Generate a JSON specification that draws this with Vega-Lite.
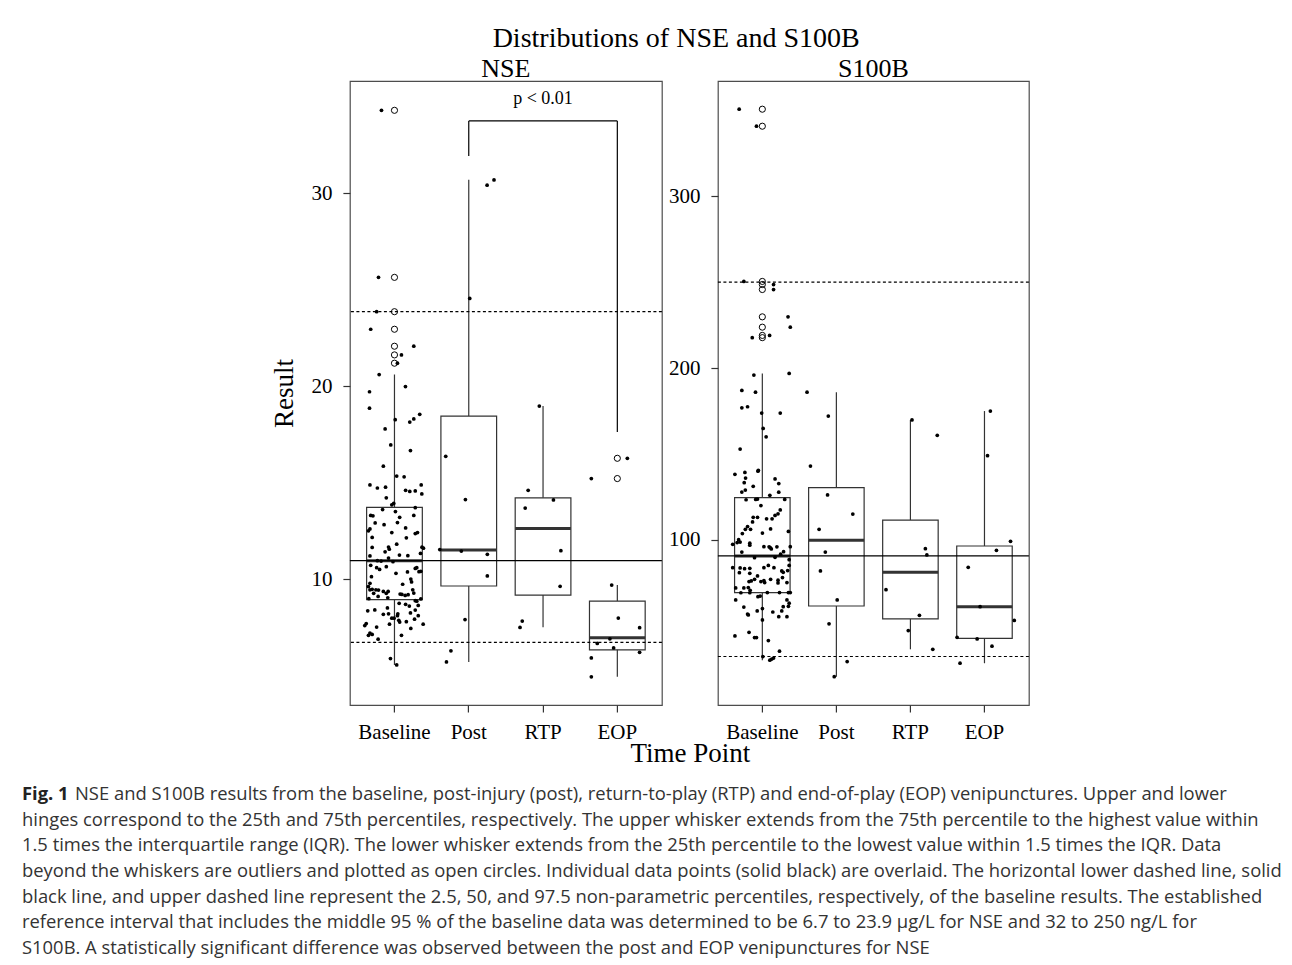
{
  "$schema": "https://vega.github.io/schema/vega-lite/v6.json",
  "padding": {"left": 22, "top": 25, "right": 0, "bottom": 0},
  "background": "white",
  "config": {
    "font": "Liberation Serif",
    "view": {"stroke": "#4d4d4d", "strokeWidth": 1.2},
    "axis": {"grid": false, "domain": false, "ticks": true, "tickSize": 7, "tickColor": "#333333", "tickWidth": 1.2, "labelFont": "Liberation Serif", "labelFontSize": 21, "labelColor": "#000000", "labelPadding": 11, "titleFont": "Liberation Serif", "titleFontSize": 27, "titleFontWeight": "normal", "titleColor": "#000000"},
    "title": {"font": "Liberation Serif", "fontWeight": "normal", "color": "#000000"}
  },
  "datasets": {
    "points": [
      {"p":"NSE","t":"Baseline","j":-0.175,"v":34.3,"o":1},
      {"p":"NSE","t":"Baseline","j":-0.215,"v":25.64,"o":1},
      {"p":"NSE","t":"Baseline","j":-0.24,"v":23.86,"o":1},
      {"p":"NSE","t":"Baseline","j":-0.32,"v":22.95,"o":1},
      {"p":"NSE","t":"Baseline","j":0.26,"v":22.07,"o":1},
      {"p":"NSE","t":"Baseline","j":0.094,"v":21.62,"o":1},
      {"p":"NSE","t":"Baseline","j":0.04,"v":21.19,"o":1},
      {"p":"NSE","t":"Baseline","j":-0.206,"v":20.6},
      {"p":"NSE","t":"Baseline","j":0.148,"v":19.98},
      {"p":"NSE","t":"Baseline","j":-0.336,"v":19.71},
      {"p":"NSE","t":"Baseline","j":-0.336,"v":18.86},
      {"p":"NSE","t":"Baseline","j":0.01,"v":18.26},
      {"p":"NSE","t":"Baseline","j":0.206,"v":18.14},
      {"p":"NSE","t":"Baseline","j":0.26,"v":18.3},
      {"p":"NSE","t":"Baseline","j":0.34,"v":18.54},
      {"p":"NSE","t":"Baseline","j":-0.126,"v":17.78},
      {"p":"NSE","t":"Baseline","j":-0.05,"v":16.95},
      {"p":"NSE","t":"Baseline","j":0.215,"v":16.66},
      {"p":"NSE","t":"Baseline","j":-0.15,"v":15.85},
      {"p":"NSE","t":"Baseline","j":0.03,"v":15.34},
      {"p":"NSE","t":"Baseline","j":0.13,"v":15.3},
      {"p":"NSE","t":"Baseline","j":-0.33,"v":14.88},
      {"p":"NSE","t":"Baseline","j":-0.23,"v":14.72},
      {"p":"NSE","t":"Baseline","j":-0.12,"v":14.76},
      {"p":"NSE","t":"Baseline","j":0.36,"v":14.88},
      {"p":"NSE","t":"Baseline","j":0.15,"v":14.6},
      {"p":"NSE","t":"Baseline","j":0.206,"v":14.54},
      {"p":"NSE","t":"Baseline","j":0.28,"v":14.57},
      {"p":"NSE","t":"Baseline","j":0.368,"v":14.41},
      {"p":"NSE","t":"Baseline","j":-0.11,"v":14.21},
      {"p":"NSE","t":"Baseline","j":-0.01,"v":13.92},
      {"p":"NSE","t":"Baseline","j":-0.036,"v":13.85},
      {"p":"NSE","t":"Baseline","j":-0.16,"v":13.6},
      {"p":"NSE","t":"Baseline","j":0.013,"v":13.5},
      {"p":"NSE","t":"Baseline","j":0.28,"v":13.7},
      {"p":"NSE","t":"Baseline","j":-0.32,"v":13.3},
      {"p":"NSE","t":"Baseline","j":-0.29,"v":13.28},
      {"p":"NSE","t":"Baseline","j":0.07,"v":13.2},
      {"p":"NSE","t":"Baseline","j":0.26,"v":13.3},
      {"p":"NSE","t":"Baseline","j":-0.26,"v":12.91},
      {"p":"NSE","t":"Baseline","j":-0.14,"v":12.82},
      {"p":"NSE","t":"Baseline","j":0.04,"v":12.93},
      {"p":"NSE","t":"Baseline","j":-0.33,"v":12.6},
      {"p":"NSE","t":"Baseline","j":-0.35,"v":12.5},
      {"p":"NSE","t":"Baseline","j":0.15,"v":12.65},
      {"p":"NSE","t":"Baseline","j":-0.036,"v":12.41},
      {"p":"NSE","t":"Baseline","j":0.28,"v":12.36},
      {"p":"NSE","t":"Baseline","j":0.31,"v":12.41},
      {"p":"NSE","t":"Baseline","j":-0.3,"v":12.16},
      {"p":"NSE","t":"Baseline","j":0.16,"v":12.14},
      {"p":"NSE","t":"Baseline","j":0.03,"v":11.81},
      {"p":"NSE","t":"Baseline","j":-0.3,"v":11.64},
      {"p":"NSE","t":"Baseline","j":-0.08,"v":11.66},
      {"p":"NSE","t":"Baseline","j":0.37,"v":11.65},
      {"p":"NSE","t":"Baseline","j":0.39,"v":11.6},
      {"p":"NSE","t":"Baseline","j":-0.126,"v":11.41},
      {"p":"NSE","t":"Baseline","j":-0.07,"v":11.55},
      {"p":"NSE","t":"Baseline","j":0.067,"v":11.24},
      {"p":"NSE","t":"Baseline","j":0.18,"v":11.21},
      {"p":"NSE","t":"Baseline","j":0.35,"v":11.33},
      {"p":"NSE","t":"Baseline","j":-0.33,"v":11.2},
      {"p":"NSE","t":"Baseline","j":-0.08,"v":11.09},
      {"p":"NSE","t":"Baseline","j":-0.23,"v":10.95},
      {"p":"NSE","t":"Baseline","j":-0.18,"v":10.93},
      {"p":"NSE","t":"Baseline","j":-0.02,"v":10.9},
      {"p":"NSE","t":"Baseline","j":-0.32,"v":10.71},
      {"p":"NSE","t":"Baseline","j":-0.24,"v":10.59},
      {"p":"NSE","t":"Baseline","j":-0.2,"v":10.5},
      {"p":"NSE","t":"Baseline","j":-0.11,"v":10.64},
      {"p":"NSE","t":"Baseline","j":0.28,"v":10.55},
      {"p":"NSE","t":"Baseline","j":0.3,"v":10.59},
      {"p":"NSE","t":"Baseline","j":0.33,"v":10.38},
      {"p":"NSE","t":"Baseline","j":0.355,"v":10.4},
      {"p":"NSE","t":"Baseline","j":0.02,"v":10.3},
      {"p":"NSE","t":"Baseline","j":0.175,"v":10.37},
      {"p":"NSE","t":"Baseline","j":-0.31,"v":10.12},
      {"p":"NSE","t":"Baseline","j":-0.33,"v":9.78},
      {"p":"NSE","t":"Baseline","j":0.11,"v":9.73},
      {"p":"NSE","t":"Baseline","j":0.22,"v":10.0},
      {"p":"NSE","t":"Baseline","j":0.23,"v":9.85},
      {"p":"NSE","t":"Baseline","j":-0.35,"v":9.61},
      {"p":"NSE","t":"Baseline","j":-0.33,"v":9.44},
      {"p":"NSE","t":"Baseline","j":-0.3,"v":9.47},
      {"p":"NSE","t":"Baseline","j":-0.25,"v":9.44},
      {"p":"NSE","t":"Baseline","j":-0.215,"v":9.43},
      {"p":"NSE","t":"Baseline","j":-0.15,"v":9.36},
      {"p":"NSE","t":"Baseline","j":-0.28,"v":9.26},
      {"p":"NSE","t":"Baseline","j":-0.085,"v":9.36},
      {"p":"NSE","t":"Baseline","j":-0.11,"v":9.26},
      {"p":"NSE","t":"Baseline","j":-0.22,"v":9.1},
      {"p":"NSE","t":"Baseline","j":0.076,"v":9.22},
      {"p":"NSE","t":"Baseline","j":0.1,"v":9.2},
      {"p":"NSE","t":"Baseline","j":0.144,"v":9.15},
      {"p":"NSE","t":"Baseline","j":0.184,"v":9.19},
      {"p":"NSE","t":"Baseline","j":0.246,"v":9.44},
      {"p":"NSE","t":"Baseline","j":0.26,"v":9.27},
      {"p":"NSE","t":"Baseline","j":-0.345,"v":8.98},
      {"p":"NSE","t":"Baseline","j":-0.09,"v":9.03},
      {"p":"NSE","t":"Baseline","j":0.355,"v":8.97},
      {"p":"NSE","t":"Baseline","j":0.28,"v":8.88},
      {"p":"NSE","t":"Baseline","j":0.3,"v":8.85},
      {"p":"NSE","t":"Baseline","j":0.063,"v":8.74},
      {"p":"NSE","t":"Baseline","j":0.15,"v":8.69},
      {"p":"NSE","t":"Baseline","j":-0.36,"v":8.35},
      {"p":"NSE","t":"Baseline","j":-0.265,"v":8.4},
      {"p":"NSE","t":"Baseline","j":-0.095,"v":8.5},
      {"p":"NSE","t":"Baseline","j":0.2,"v":8.6},
      {"p":"NSE","t":"Baseline","j":0.32,"v":8.63},
      {"p":"NSE","t":"Baseline","j":0.28,"v":8.39},
      {"p":"NSE","t":"Baseline","j":-0.15,"v":8.17},
      {"p":"NSE","t":"Baseline","j":-0.08,"v":8.2},
      {"p":"NSE","t":"Baseline","j":-0.036,"v":7.97},
      {"p":"NSE","t":"Baseline","j":-0.005,"v":7.97},
      {"p":"NSE","t":"Baseline","j":0.045,"v":8.2},
      {"p":"NSE","t":"Baseline","j":0.04,"v":8.1},
      {"p":"NSE","t":"Baseline","j":0.215,"v":8.24},
      {"p":"NSE","t":"Baseline","j":0.27,"v":7.92},
      {"p":"NSE","t":"Baseline","j":0.32,"v":8.1},
      {"p":"NSE","t":"Baseline","j":-0.38,"v":7.69},
      {"p":"NSE","t":"Baseline","j":-0.4,"v":7.59},
      {"p":"NSE","t":"Baseline","j":-0.067,"v":7.66},
      {"p":"NSE","t":"Baseline","j":0.058,"v":7.86},
      {"p":"NSE","t":"Baseline","j":0.07,"v":7.77},
      {"p":"NSE","t":"Baseline","j":0.16,"v":7.79},
      {"p":"NSE","t":"Baseline","j":-0.24,"v":7.51},
      {"p":"NSE","t":"Baseline","j":0.22,"v":7.44},
      {"p":"NSE","t":"Baseline","j":0.386,"v":7.66},
      {"p":"NSE","t":"Baseline","j":-0.33,"v":7.2},
      {"p":"NSE","t":"Baseline","j":-0.3,"v":7.13},
      {"p":"NSE","t":"Baseline","j":-0.35,"v":7.08},
      {"p":"NSE","t":"Baseline","j":-0.22,"v":6.88},
      {"p":"NSE","t":"Baseline","j":0.094,"v":7.08},
      {"p":"NSE","t":"Baseline","j":-0.054,"v":5.88},
      {"p":"NSE","t":"Baseline","j":0.03,"v":5.55},
      {"p":"NSE","t":"Post","j":0.247,"v":30.42},
      {"p":"NSE","t":"Post","j":0.34,"v":30.69},
      {"p":"NSE","t":"Post","j":0.013,"v":24.55},
      {"p":"NSE","t":"Post","j":-0.31,"v":16.36},
      {"p":"NSE","t":"Post","j":-0.045,"v":14.12},
      {"p":"NSE","t":"Post","j":-0.39,"v":11.53},
      {"p":"NSE","t":"Post","j":-0.1,"v":11.45},
      {"p":"NSE","t":"Post","j":0.25,"v":11.28},
      {"p":"NSE","t":"Post","j":0.25,"v":10.16},
      {"p":"NSE","t":"Post","j":-0.05,"v":7.9},
      {"p":"NSE","t":"Post","j":-0.24,"v":6.28},
      {"p":"NSE","t":"Post","j":-0.3,"v":5.7},
      {"p":"NSE","t":"RTP","j":-0.05,"v":18.97},
      {"p":"NSE","t":"RTP","j":-0.2,"v":14.6},
      {"p":"NSE","t":"RTP","j":0.14,"v":14.1},
      {"p":"NSE","t":"RTP","j":-0.24,"v":13.68},
      {"p":"NSE","t":"RTP","j":0.24,"v":11.47},
      {"p":"NSE","t":"RTP","j":0.23,"v":9.62},
      {"p":"NSE","t":"RTP","j":-0.28,"v":7.82},
      {"p":"NSE","t":"RTP","j":-0.31,"v":7.49},
      {"p":"NSE","t":"EOP","j":-0.076,"v":9.69},
      {"p":"NSE","t":"EOP","j":0.013,"v":7.98},
      {"p":"NSE","t":"EOP","j":0.3,"v":7.48},
      {"p":"NSE","t":"EOP","j":-0.1,"v":6.9},
      {"p":"NSE","t":"EOP","j":-0.27,"v":6.66},
      {"p":"NSE","t":"EOP","j":-0.05,"v":6.43},
      {"p":"NSE","t":"EOP","j":0.3,"v":6.2},
      {"p":"NSE","t":"EOP","j":-0.35,"v":5.91},
      {"p":"NSE","t":"EOP","j":-0.35,"v":4.93},
      {"p":"NSE","t":"EOP","j":-0.35,"v":15.21,"o":1},
      {"p":"NSE","t":"EOP","j":0.135,"v":16.26,"o":1},
      {"p":"S100B","t":"Baseline","j":-0.313,"v":350.6,"o":1},
      {"p":"S100B","t":"Baseline","j":-0.08,"v":340.7,"o":1},
      {"p":"S100B","t":"Baseline","j":-0.25,"v":250.4,"o":1},
      {"p":"S100B","t":"Baseline","j":0.15,"v":248.6,"o":1},
      {"p":"S100B","t":"Baseline","j":0.15,"v":245.7,"o":1},
      {"p":"S100B","t":"Baseline","j":0.345,"v":229.8,"o":1},
      {"p":"S100B","t":"Baseline","j":0.375,"v":223.8,"o":1},
      {"p":"S100B","t":"Baseline","j":0.097,"v":219,"o":1},
      {"p":"S100B","t":"Baseline","j":-0.137,"v":217.7,"o":1},
      {"p":"S100B","t":"Baseline","j":0.36,"v":196.9},
      {"p":"S100B","t":"Baseline","j":-0.115,"v":195.9},
      {"p":"S100B","t":"Baseline","j":-0.277,"v":187},
      {"p":"S100B","t":"Baseline","j":-0.093,"v":186},
      {"p":"S100B","t":"Baseline","j":-0.277,"v":176.9},
      {"p":"S100B","t":"Baseline","j":-0.2,"v":177.5},
      {"p":"S100B","t":"Baseline","j":-0.01,"v":173.8},
      {"p":"S100B","t":"Baseline","j":0.24,"v":173.8},
      {"p":"S100B","t":"Baseline","j":0.01,"v":164.9},
      {"p":"S100B","t":"Baseline","j":0.05,"v":160},
      {"p":"S100B","t":"Baseline","j":-0.3,"v":152.9},
      {"p":"S100B","t":"Baseline","j":-0.37,"v":138.2},
      {"p":"S100B","t":"Baseline","j":-0.236,"v":139.3},
      {"p":"S100B","t":"Baseline","j":-0.227,"v":136},
      {"p":"S100B","t":"Baseline","j":-0.245,"v":133.3},
      {"p":"S100B","t":"Baseline","j":-0.124,"v":131.2},
      {"p":"S100B","t":"Baseline","j":-0.277,"v":127.9},
      {"p":"S100B","t":"Baseline","j":-0.23,"v":129},
      {"p":"S100B","t":"Baseline","j":-0.06,"v":140},
      {"p":"S100B","t":"Baseline","j":-0.055,"v":140.5},
      {"p":"S100B","t":"Baseline","j":0.17,"v":135.5},
      {"p":"S100B","t":"Baseline","j":0.22,"v":132.8},
      {"p":"S100B","t":"Baseline","j":0.22,"v":127.8},
      {"p":"S100B","t":"Baseline","j":0.1,"v":126},
      {"p":"S100B","t":"Baseline","j":-0.22,"v":123.4},
      {"p":"S100B","t":"Baseline","j":-0.09,"v":123.6},
      {"p":"S100B","t":"Baseline","j":-0.066,"v":123.8},
      {"p":"S100B","t":"Baseline","j":0.3,"v":123.6},
      {"p":"S100B","t":"Baseline","j":-0.02,"v":120},
      {"p":"S100B","t":"Baseline","j":0.21,"v":115.2},
      {"p":"S100B","t":"Baseline","j":0.24,"v":117.5},
      {"p":"S100B","t":"Baseline","j":0.17,"v":114.3},
      {"p":"S100B","t":"Baseline","j":0.13,"v":112.3},
      {"p":"S100B","t":"Baseline","j":0.056,"v":112.3},
      {"p":"S100B","t":"Baseline","j":-0.066,"v":113.2},
      {"p":"S100B","t":"Baseline","j":-0.124,"v":113.2},
      {"p":"S100B","t":"Baseline","j":-0.133,"v":110.5},
      {"p":"S100B","t":"Baseline","j":-0.2,"v":107.8},
      {"p":"S100B","t":"Baseline","j":-0.23,"v":106.2},
      {"p":"S100B","t":"Baseline","j":-0.27,"v":103.7},
      {"p":"S100B","t":"Baseline","j":-0.32,"v":100.2},
      {"p":"S100B","t":"Baseline","j":-0.34,"v":98.5},
      {"p":"S100B","t":"Baseline","j":-0.16,"v":106.2},
      {"p":"S100B","t":"Baseline","j":0.0,"v":104},
      {"p":"S100B","t":"Baseline","j":0.11,"v":106.4},
      {"p":"S100B","t":"Baseline","j":0.35,"v":105},
      {"p":"S100B","t":"Baseline","j":-0.4,"v":97.5},
      {"p":"S100B","t":"Baseline","j":-0.3,"v":98.8},
      {"p":"S100B","t":"Baseline","j":-0.17,"v":98.1},
      {"p":"S100B","t":"Baseline","j":-0.17,"v":97},
      {"p":"S100B","t":"Baseline","j":0.02,"v":96.1},
      {"p":"S100B","t":"Baseline","j":0.09,"v":96},
      {"p":"S100B","t":"Baseline","j":0.12,"v":94.8},
      {"p":"S100B","t":"Baseline","j":0.105,"v":95.5},
      {"p":"S100B","t":"Baseline","j":0.195,"v":96},
      {"p":"S100B","t":"Baseline","j":0.285,"v":93.2},
      {"p":"S100B","t":"Baseline","j":0.245,"v":91.7},
      {"p":"S100B","t":"Baseline","j":0.375,"v":96.1},
      {"p":"S100B","t":"Baseline","j":-0.277,"v":93},
      {"p":"S100B","t":"Baseline","j":-0.106,"v":89.7},
      {"p":"S100B","t":"Baseline","j":0.17,"v":89.9},
      {"p":"S100B","t":"Baseline","j":0.36,"v":88.5},
      {"p":"S100B","t":"Baseline","j":-0.4,"v":83.9},
      {"p":"S100B","t":"Baseline","j":-0.31,"v":81},
      {"p":"S100B","t":"Baseline","j":-0.3,"v":83.7},
      {"p":"S100B","t":"Baseline","j":-0.24,"v":83.3},
      {"p":"S100B","t":"Baseline","j":-0.17,"v":83.5},
      {"p":"S100B","t":"Baseline","j":-0.17,"v":80.6},
      {"p":"S100B","t":"Baseline","j":0.02,"v":83.9},
      {"p":"S100B","t":"Baseline","j":0.08,"v":85.2},
      {"p":"S100B","t":"Baseline","j":0.155,"v":83.9},
      {"p":"S100B","t":"Baseline","j":0.26,"v":82},
      {"p":"S100B","t":"Baseline","j":0.28,"v":81.2},
      {"p":"S100B","t":"Baseline","j":0.34,"v":82.2},
      {"p":"S100B","t":"Baseline","j":0.36,"v":85.2},
      {"p":"S100B","t":"Baseline","j":-0.066,"v":79.1},
      {"p":"S100B","t":"Baseline","j":-0.106,"v":77.1},
      {"p":"S100B","t":"Baseline","j":-0.18,"v":75.8},
      {"p":"S100B","t":"Baseline","j":-0.15,"v":76.2},
      {"p":"S100B","t":"Baseline","j":-0.02,"v":75.8},
      {"p":"S100B","t":"Baseline","j":0.02,"v":76.4},
      {"p":"S100B","t":"Baseline","j":0.11,"v":77.1},
      {"p":"S100B","t":"Baseline","j":0.03,"v":75.2},
      {"p":"S100B","t":"Baseline","j":0.21,"v":76.6},
      {"p":"S100B","t":"Baseline","j":0.21,"v":75},
      {"p":"S100B","t":"Baseline","j":0.33,"v":75.2},
      {"p":"S100B","t":"Baseline","j":0.27,"v":78.1},
      {"p":"S100B","t":"Baseline","j":-0.36,"v":72.1},
      {"p":"S100B","t":"Baseline","j":-0.25,"v":72.1},
      {"p":"S100B","t":"Baseline","j":-0.19,"v":72.3},
      {"p":"S100B","t":"Baseline","j":-0.165,"v":70.7},
      {"p":"S100B","t":"Baseline","j":-0.17,"v":69.3},
      {"p":"S100B","t":"Baseline","j":-0.29,"v":69.3},
      {"p":"S100B","t":"Baseline","j":0.066,"v":69.4},
      {"p":"S100B","t":"Baseline","j":0.23,"v":69.4},
      {"p":"S100B","t":"Baseline","j":0.35,"v":69.4},
      {"p":"S100B","t":"Baseline","j":0.375,"v":69.4},
      {"p":"S100B","t":"Baseline","j":-0.06,"v":67},
      {"p":"S100B","t":"Baseline","j":-0.03,"v":67.4},
      {"p":"S100B","t":"Baseline","j":-0.36,"v":65.1},
      {"p":"S100B","t":"Baseline","j":-0.25,"v":61},
      {"p":"S100B","t":"Baseline","j":-0.2,"v":56.9},
      {"p":"S100B","t":"Baseline","j":-0.19,"v":56.4},
      {"p":"S100B","t":"Baseline","j":-0.07,"v":58.7},
      {"p":"S100B","t":"Baseline","j":0.0,"v":60.1},
      {"p":"S100B","t":"Baseline","j":0.26,"v":58.7},
      {"p":"S100B","t":"Baseline","j":0.14,"v":58.1},
      {"p":"S100B","t":"Baseline","j":0.33,"v":65.1},
      {"p":"S100B","t":"Baseline","j":0.35,"v":61.4},
      {"p":"S100B","t":"Baseline","j":0.36,"v":63.2},
      {"p":"S100B","t":"Baseline","j":0.28,"v":61.2},
      {"p":"S100B","t":"Baseline","j":0.22,"v":55.4},
      {"p":"S100B","t":"Baseline","j":0.33,"v":55.4},
      {"p":"S100B","t":"Baseline","j":0.0,"v":53.5},
      {"p":"S100B","t":"Baseline","j":-0.37,"v":44.2},
      {"p":"S100B","t":"Baseline","j":-0.18,"v":46.3},
      {"p":"S100B","t":"Baseline","j":-0.106,"v":43.2},
      {"p":"S100B","t":"Baseline","j":-0.08,"v":43.2},
      {"p":"S100B","t":"Baseline","j":0.08,"v":41.5},
      {"p":"S100B","t":"Baseline","j":0.23,"v":35.3},
      {"p":"S100B","t":"Baseline","j":0.006,"v":32.2},
      {"p":"S100B","t":"Baseline","j":0.1,"v":30.1},
      {"p":"S100B","t":"Baseline","j":0.15,"v":31.3},
      {"p":"S100B","t":"Baseline","j":0.125,"v":30.7},
      {"p":"S100B","t":"Post","j":-0.396,"v":186},
      {"p":"S100B","t":"Post","j":-0.11,"v":172.1},
      {"p":"S100B","t":"Post","j":-0.35,"v":143},
      {"p":"S100B","t":"Post","j":-0.12,"v":126.2},
      {"p":"S100B","t":"Post","j":0.22,"v":115.1},
      {"p":"S100B","t":"Post","j":-0.234,"v":106.2},
      {"p":"S100B","t":"Post","j":-0.15,"v":93},
      {"p":"S100B","t":"Post","j":-0.216,"v":82},
      {"p":"S100B","t":"Post","j":0.01,"v":65.1},
      {"p":"S100B","t":"Post","j":-0.1,"v":51.2},
      {"p":"S100B","t":"Post","j":0.144,"v":29.3},
      {"p":"S100B","t":"Post","j":-0.03,"v":20.5},
      {"p":"S100B","t":"RTP","j":0.02,"v":169.8},
      {"p":"S100B","t":"RTP","j":0.36,"v":160.9},
      {"p":"S100B","t":"RTP","j":0.2,"v":94.9},
      {"p":"S100B","t":"RTP","j":0.22,"v":91.3},
      {"p":"S100B","t":"RTP","j":-0.33,"v":71.1},
      {"p":"S100B","t":"RTP","j":0.12,"v":56.2},
      {"p":"S100B","t":"RTP","j":-0.03,"v":47.3},
      {"p":"S100B","t":"RTP","j":0.3,"v":36.4},
      {"p":"S100B","t":"EOP","j":0.078,"v":175},
      {"p":"S100B","t":"EOP","j":0.04,"v":149},
      {"p":"S100B","t":"EOP","j":0.35,"v":99.2},
      {"p":"S100B","t":"EOP","j":0.16,"v":94},
      {"p":"S100B","t":"EOP","j":-0.22,"v":84.1},
      {"p":"S100B","t":"EOP","j":-0.06,"v":61.2},
      {"p":"S100B","t":"EOP","j":0.4,"v":53.2},
      {"p":"S100B","t":"EOP","j":-0.37,"v":43.4},
      {"p":"S100B","t":"EOP","j":-0.1,"v":42.4},
      {"p":"S100B","t":"EOP","j":0.1,"v":38.2},
      {"p":"S100B","t":"EOP","j":-0.33,"v":28.3}
    ],
    "boxes": [
      {"p":"NSE","t":"Baseline","lo":5.55,"q1":8.93,"med":10.95,"q3":13.72,"hi":20.6},
      {"p":"NSE","t":"Post","lo":5.7,"q1":9.64,"med":11.5,"q3":18.45,"hi":30.7},
      {"p":"NSE","t":"RTP","lo":7.5,"q1":9.17,"med":12.62,"q3":14.21,"hi":18.97},
      {"p":"NSE","t":"EOP","lo":4.93,"q1":6.33,"med":6.95,"q3":8.86,"hi":9.69},
      {"p":"S100B","t":"Baseline","lo":30.1,"q1":69.4,"med":90.7,"q3":124.6,"hi":196.9},
      {"p":"S100B","t":"Post","lo":20.5,"q1":61.6,"med":99.8,"q3":130.4,"hi":186},
      {"p":"S100B","t":"RTP","lo":36.4,"q1":54.1,"med":81.2,"q3":111.6,"hi":169.8},
      {"p":"S100B","t":"EOP","lo":28.3,"q1":42.8,"med":61.2,"q3":96.5,"hi":175}
    ],
    "refs": [
      {"p":"NSE","v":6.72,"k":"dashed"},
      {"p":"NSE","v":10.95,"k":"solid"},
      {"p":"NSE","v":23.86,"k":"dashed"},
      {"p":"S100B","v":32.2,"k":"dashed"},
      {"p":"S100B","v":90.7,"k":"solid"},
      {"p":"S100B","v":250,"k":"dashed"}
    ],
    "bracket": [
      {"t":"Post","t2":"Post","y":31.93,"y2":33.75},
      {"t":"Post","t2":"EOP","y":33.75,"y2":33.75},
      {"t":"EOP","t2":"EOP","y":17.62,"y2":33.75}
    ],
    "annot": [
      {"t":"RTP","y":34.9,"label":"p < 0.01"}
    ],
    "caption": [
      {"line":1,"seg":"label","text":"Fig. 1"},
      {"line":1,"seg":"first","text":"NSE and S100B results from the baseline, post-injury (post), return-to-play (RTP) and end-of-play (EOP) venipunctures. Upper and lower"},
      {"line":2,"seg":"body","text":"hinges correspond to the 25th and 75th percentiles, respectively. The upper whisker extends from the 75th percentile to the highest value within"},
      {"line":3,"seg":"body","text":"1.5 times the interquartile range (IQR). The lower whisker extends from the 25th percentile to the lowest value within 1.5 times the IQR. Data"},
      {"line":4,"seg":"body","text":"beyond the whiskers are outliers and plotted as open circles. Individual data points (solid black) are overlaid. The horizontal lower dashed line, solid"},
      {"line":5,"seg":"body","text":"black line, and upper dashed line represent the 2.5, 50, and 97.5 non-parametric percentiles, respectively, of the baseline results. The established"},
      {"line":6,"seg":"body","text":"reference interval that includes the middle 95 % of the baseline data was determined to be 6.7 to 23.9 μg/L for NSE and 32 to 250 ng/L for"},
      {"line":7,"seg":"body","text":"S100B. A statistically significant difference was observed between the post and EOP venipunctures for NSE"}
    ]
  },
  "vconcat": [
    {
      "title": {"text": "Distributions of NSE and S100B", "fontSize": 28, "anchor": "middle", "dx": 26, "offset": -20, "baseline": "alphabetic"},
      "spacing": 56,
      "bounds": "flush",
      "resolve": {"scale": {"y": "independent"}},
      "hconcat": [
        {
          "width": 312,
          "height": 624,
          "title": {"text": "NSE", "fontSize": 26, "frame": "group", "baseline": "alphabetic", "offset": -22},
          "layer": [
            {
              "data": {"name": "boxes"},
              "transform": [{"filter": "datum.p == 'NSE'"}],
              "mark": {"type": "rule", "color": "#333333", "strokeWidth": 1.2},
              "encoding": {
                "x": {"field": "t", "type": "nominal", "scale": {"type": "band", "domain": ["Baseline","Post","RTP","EOP"], "paddingInner": 0.25, "paddingOuter": 0.225}, "axis": {"title": "Time Point", "titleX": 340, "titleY": 56, "titleBaseline": "alphabetic", "labelAngle": 0, "labelBaseline": "alphabetic", "labelPadding": 26, "labelFontSize": 21}},
                "y": {"field": "lo", "type": "quantitative", "scale": {"domain": [3.47, 35.82], "nice": false, "zero": false}, "axis": {"title": "Result", "values": [10, 20, 30], "titlePadding": 18, "titleBaseline": "alphabetic"}},
                "y2": {"field": "hi"}
              }
            },
            {
              "data": {"name": "boxes"},
              "transform": [{"filter": "datum.p == 'NSE'"}],
              "mark": {"type": "bar", "fill": "white", "stroke": "#333333", "strokeWidth": 1.2, "width": 55.7},
              "encoding": {
                "x": {"field": "t", "type": "nominal"},
                "y": {"field": "q1", "type": "quantitative"},
                "y2": {"field": "q3"}
              }
            },
            {
              "data": {"name": "boxes"},
              "transform": [{"filter": "datum.p == 'NSE'"}],
              "mark": {"type": "bar", "fill": null, "stroke": "#333333", "strokeWidth": 3, "width": 55.7},
              "encoding": {
                "x": {"field": "t", "type": "nominal"},
                "y": {"field": "med", "type": "quantitative"},
                "y2": {"field": "med"}
              }
            },
            {
              "data": {"name": "points"},
              "transform": [{"filter": "datum.p == 'NSE' && datum.o == 1"}],
              "mark": {"type": "point", "shape": "circle", "filled": false, "stroke": "#000000", "strokeWidth": 1, "size": 38, "opacity": 1},
              "encoding": {
                "x": {"field": "t", "type": "nominal"},
                "y": {"field": "v", "type": "quantitative"}
              }
            },
            {
              "data": {"name": "points"},
              "transform": [{"filter": "datum.p == 'NSE'"}],
              "mark": {"type": "circle", "color": "#000000", "size": 14, "opacity": 1},
              "encoding": {
                "x": {"field": "t", "type": "nominal"},
                "xOffset": {"field": "j", "type": "quantitative", "scale": {"domain": [-0.375, 0.375], "nice": false, "zero": false}},
                "y": {"field": "v", "type": "quantitative"}
              }
            },
            {
              "data": {"name": "refs"},
              "transform": [{"filter": "datum.p == 'NSE'"}],
              "mark": {"type": "rule", "color": "#000000", "strokeWidth": 1.2},
              "encoding": {
                "y": {"field": "v", "type": "quantitative"},
                "strokeDash": {"field": "k", "type": "nominal", "scale": {"domain": ["dashed", "solid"], "range": [[3, 2.5], [1, 0]]}, "legend": null}
              }
            },
            {
              "data": {"name": "bracket"},
              "mark": {"type": "rule", "color": "#000000", "strokeWidth": 1.2},
              "encoding": {
                "x": {"field": "t", "type": "nominal", "bandPosition": 0.5},
                "x2": {"field": "t2", "bandPosition": 0.5},
                "y": {"field": "y", "type": "quantitative"},
                "y2": {"field": "y2"}
              }
            },
            {
              "data": {"name": "annot"},
              "mark": {"type": "text", "font": "Liberation Serif", "fontSize": 18, "baseline": "middle", "align": "center", "color": "#000000"},
              "encoding": {
                "x": {"field": "t", "type": "nominal"},
                "y": {"field": "y", "type": "quantitative"},
                "text": {"field": "label"}
              }
            }
          ]
        },
        {
          "width": 311,
          "height": 624,
          "title": {"text": "S100B", "fontSize": 26, "frame": "group", "baseline": "alphabetic", "offset": -22},
          "layer": [
            {
              "data": {"name": "boxes"},
              "transform": [{"filter": "datum.p == 'S100B'"}],
              "mark": {"type": "rule", "color": "#333333", "strokeWidth": 1.2},
              "encoding": {
                "x": {"field": "t", "type": "nominal", "scale": {"type": "band", "domain": ["Baseline","Post","RTP","EOP"], "paddingInner": 0.25, "paddingOuter": 0.225}, "axis": {"title": null, "labelAngle": 0, "labelBaseline": "alphabetic", "labelPadding": 26, "labelFontSize": 21}},
                "y": {"field": "lo", "type": "quantitative", "scale": {"domain": [4, 367], "nice": false, "zero": false}, "axis": {"title": null, "values": [100, 200, 300]}},
                "y2": {"field": "hi"}
              }
            },
            {
              "data": {"name": "boxes"},
              "transform": [{"filter": "datum.p == 'S100B'"}],
              "mark": {"type": "bar", "fill": "white", "stroke": "#333333", "strokeWidth": 1.2, "width": 55.5},
              "encoding": {
                "x": {"field": "t", "type": "nominal"},
                "y": {"field": "q1", "type": "quantitative"},
                "y2": {"field": "q3"}
              }
            },
            {
              "data": {"name": "boxes"},
              "transform": [{"filter": "datum.p == 'S100B'"}],
              "mark": {"type": "bar", "fill": null, "stroke": "#333333", "strokeWidth": 3, "width": 55.5},
              "encoding": {
                "x": {"field": "t", "type": "nominal"},
                "y": {"field": "med", "type": "quantitative"},
                "y2": {"field": "med"}
              }
            },
            {
              "data": {"name": "points"},
              "transform": [{"filter": "datum.p == 'S100B' && datum.o == 1"}],
              "mark": {"type": "point", "shape": "circle", "filled": false, "stroke": "#000000", "strokeWidth": 1, "size": 38, "opacity": 1},
              "encoding": {
                "x": {"field": "t", "type": "nominal"},
                "y": {"field": "v", "type": "quantitative"}
              }
            },
            {
              "data": {"name": "points"},
              "transform": [{"filter": "datum.p == 'S100B'"}],
              "mark": {"type": "circle", "color": "#000000", "size": 14, "opacity": 1},
              "encoding": {
                "x": {"field": "t", "type": "nominal"},
                "xOffset": {"field": "j", "type": "quantitative", "scale": {"domain": [-0.375, 0.375], "nice": false, "zero": false}},
                "y": {"field": "v", "type": "quantitative"}
              }
            },
            {
              "data": {"name": "refs"},
              "transform": [{"filter": "datum.p == 'S100B'"}],
              "mark": {"type": "rule", "color": "#000000", "strokeWidth": 1.2},
              "encoding": {
                "y": {"field": "v", "type": "quantitative"},
                "strokeDash": {"field": "k", "type": "nominal", "scale": {"domain": ["dashed", "solid"], "range": [[3, 2.5], [1, 0]]}, "legend": null}
              }
            }
          ]
        }
      ]
    },
    {
      "width": 1336,
      "height": 154,
      "view": {"stroke": null},
      "data": {"name": "caption"},
      "layer": [
        {
          "transform": [{"filter": "datum.seg == 'label'"}],
          "mark": {"type": "text", "align": "left", "baseline": "alphabetic", "font": "Open Sans", "fontSize": 18.4, "fontWeight": "bold", "color": "#222222"},
          "encoding": {
            "x": {"datum": 0, "type": "quantitative", "scale": {"domain": [0, 1]}, "axis": null},
            "y": {"field": "line", "type": "ordinal", "scale": {"type": "point", "padding": 0, "domain": [1, 2, 3, 4, 5, 6, 7]}, "axis": null},
            "text": {"field": "text"}
          }
        },
        {
          "transform": [{"filter": "datum.seg == 'first'"}],
          "mark": {"type": "text", "align": "left", "baseline": "alphabetic", "font": "Open Sans", "fontSize": 18.4, "color": "#333333", "dx": 53},
          "encoding": {
            "x": {"datum": 0, "type": "quantitative"},
            "y": {"field": "line", "type": "ordinal"},
            "text": {"field": "text"}
          }
        },
        {
          "transform": [{"filter": "datum.seg == 'body'"}],
          "mark": {"type": "text", "align": "left", "baseline": "alphabetic", "font": "Open Sans", "fontSize": 18.4, "color": "#333333"},
          "encoding": {
            "x": {"datum": 0, "type": "quantitative"},
            "y": {"field": "line", "type": "ordinal"},
            "text": {"field": "text"}
          }
        }
      ]
    }
  ],
  "spacing": 18,
  "center": true,
  "resolve": {"scale": {"x": "independent", "y": "independent"}}
}
